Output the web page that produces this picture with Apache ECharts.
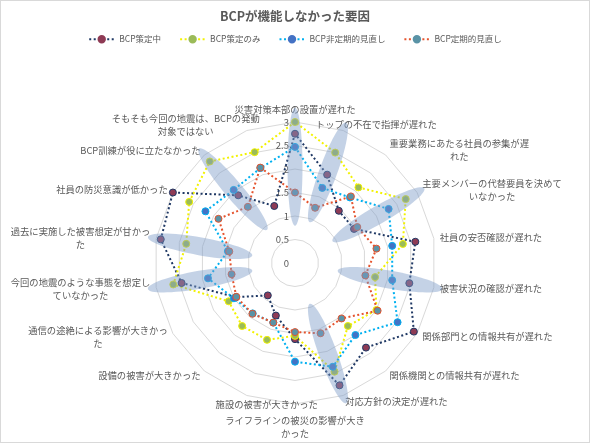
<!DOCTYPE html>
<html>
<head>
<meta charset="utf-8">
<title>BCPが機能しなかった要因</title>
<script src="https://cdn.jsdelivr.net/npm/echarts@6/dist/echarts.min.js"></script>
<style>
html,body{margin:0;padding:0;background:#fff;}
#main{width:590px;height:443px;box-sizing:border-box;border:1px solid #d9d9d9;}
</style>
</head>
<body>
<div id="main"></div>
<script>
// 項目（時計回り、上から）
var indicatorNames = [
  '災害対策本部の設置が遅れた',
  'トップの不在で指揮が遅れた',
  '重要業務にあたる社員の参集が遅\nれた',
  '主要メンバーの代替要員を決めて\nいなかった',
  '社員の安否確認が遅れた',
  '被害状況の確認が遅れた',
  '関係部門との情報共有が遅れた',
  '関係機関との情報共有が遅れた',
  '対応方針の決定が遅れた',
  'ライフラインの被災の影響が大き\nかった',
  '施設の被害が大きかった',
  '設備の被害が大きかった',
  '通信の途絶による影響が大きかっ\nた',
  '今回の地震のような事態を想定し\nていなかった',
  '過去に実施した被害想定が甘かっ\nた',
  '社員の防災意識が低かった',
  'BCP訓練が役に立たなかった',
  'そもそも今回の地震は、BCPの発動\n対象ではない'
];
var seriesNames = ['BCP策定中', 'BCP策定のみ', 'BCP非定期的見直し', 'BCP定期的見直し'];

var planning  = [2.75, 2.0, 1.45, 1.45, 2.6, 2.47, 2.92, 2.35, 2.77, 1.62, 1.19, 0.9, 1.45, 2.45, 2.9, 3.0, 1.88, 1.29];
var planOnly  = [3.0, 2.5, 2.1, 2.72, 2.33, 1.73, 2.0, 1.75, 2.46, 1.55, 1.74, 1.75, 1.63, 2.63, 2.35, 2.6, 2.82, 2.51];
var irregular = [2.47, 1.7, 1.82, 2.3, 2.1, 2.1, 2.52, 2.0, 2.35, 2.1, 1.35, 1.4, 1.5, 1.88, 1.45, 2.2, 2.03, 2.15];
var regular   = [1.5, 1.25, 1.85, 1.53, 1.76, 1.52, 2.03, 1.54, 1.59, 1.47, 1.35, 1.41, 1.44, 1.37, 1.42, 1.88, 1.56, 2.16];

var axisMax = 3;
var splitCount = 6;
// 青い楕円で強調されている項目
var highlightAxes = [0, 1, 3, 5, 8, 13, 14, 16];

var lineColors = ['#1f3864', '#f2f200', '#00b0f0', '#e5532d'];
var markerColors = ['#8e3b55', '#9bbb59', '#4472c4', '#5a93a6'];

var cx = 294, cy = 262, R = 141;
var font = '"Noto Sans CJK JP", sans-serif';
var dots = [2, 2.5];

// Excelの項目名の位置に寄せるための個別調整
var nameTweaks = {
  1: { align: 'center', padding: [0, 0, 0, 62] },
  9: { padding: [4, 0, 0, 0] },
  10: { align: 'center', padding: [6, 0, 0, 44] },
  17: { align: 'center', padding: [0, 118, 0, 0] }
};

// echartsのレーダーは反時計回りなので並べ替える
var order = [0];
for (var k = indicatorNames.length - 1; k > 0; k--) order.push(k);
function reorder(arr) { return order.map(function (i) { return arr[i]; }); }

var indicators = order.map(function (i) {
  var ind = { name: indicatorNames[i], min: 0, max: axisMax };
  if (i !== 0) ind.axisLabel = { show: false };
  if (nameTweaks[i]) ind.nameTextStyle = nameTweaks[i];
  return ind;
});

var allValues = [planning, planOnly, irregular, regular];
var seriesData = allValues.map(function (vals, s) {
  return {
    name: seriesNames[s],
    value: reorder(vals),
    symbol: 'circle',
    symbolSize: 7,
    lineStyle: { color: lineColors[s], width: 2, type: dots },
    itemStyle: { color: markerColors[s], borderColor: lineColors[s], borderWidth: 1 }
  };
});

// 凡例用（線＋マーカー）の空の折れ線
var legendSeries = seriesNames.map(function (name, s) {
  return {
    type: 'line',
    name: name,
    data: [],
    symbol: 'circle',
    symbolSize: 7,
    lineStyle: { color: lineColors[s], width: 2, type: dots },
    itemStyle: { color: markerColors[s], borderColor: markerColors[s], borderWidth: 1 }
  };
});

var n = indicatorNames.length;
var ellipses = highlightAxes.map(function (i) {
  var phi = Math.PI / 2 - i * 2 * Math.PI / n;
  var r = R * 2.05 / axisMax;
  var len = i === 0 ? 118 : 106;
  var wid = i === 0 ? 15 : 18;
  return {
    type: 'ellipse',
    x: cx + r * Math.cos(phi),
    y: cy - r * Math.sin(phi),
    rotation: phi,
    shape: { cx: 0, cy: 0, rx: len / 2, ry: wid / 2 },
    style: { fill: 'rgba(125,155,200,0.45)' },
    z: 100,
    silent: true
  };
});

var chart = echarts.init(document.getElementById('main'));
var option = {
  backgroundColor: '#fff',
  animation: false,
  title: {
    text: 'BCPが機能しなかった要因',
    left: 'center',
    top: 4,
    textStyle: { fontSize: 12.5, fontWeight: 'bold', color: '#595959', fontFamily: font }
  },
  legend: {
    data: seriesNames,
    top: 29,
    left: 'center',
    itemWidth: 25,
    itemHeight: 8,
    itemGap: 18,
    textStyle: { fontSize: 8.5, color: '#595959', fontFamily: font }
  },
  grid: { left: 0, top: 0, width: 1, height: 1, show: false },
  xAxis: { show: false, type: 'category' },
  yAxis: { show: false, type: 'value' },
  radar: {
    center: [cx, cy],
    radius: R,
    startAngle: 90,
    splitNumber: splitCount,
    shape: 'polygon',
    nameGap: 6,
    axisName: {
      color: '#595959', fontSize: 9.3, fontFamily: font,
      formatter: function (name) {
        return name.split('\n').map(function (l) { return '{c|' + l + '}'; }).join('\n');
      },
      rich: { c: { align: 'center', color: '#595959', fontSize: 9.3, fontFamily: font, lineHeight: 13 } }
    },
    axisLine: { show: false },
    axisTick: { show: false },
    axisLabel: { show: true, color: '#595959', fontSize: 9.5, fontFamily: font, margin: 6 },
    splitLine: { lineStyle: { color: '#d9d9d9', width: 1 } },
    splitArea: { show: false },
    indicator: indicators
  },
  graphic: ellipses,
  series: legendSeries.concat([{
    type: 'radar',
    data: seriesData
  }])
};
chart.setOption(option);
</script>
</body>
</html>
